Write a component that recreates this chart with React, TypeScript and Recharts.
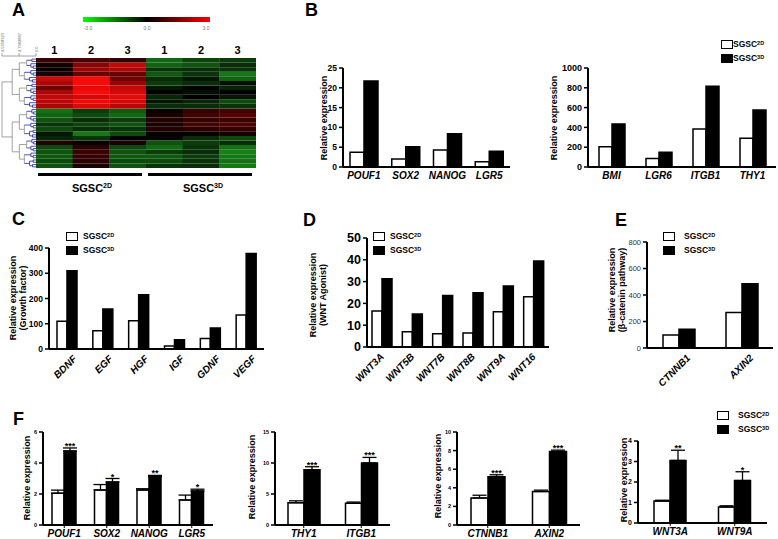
import React from 'react';
import { BarChart, Bar, XAxis, YAxis, ErrorBar, LabelList, Cell } from 'recharts';

const FONT = '"Liberation Sans", Arial, Helvetica, sans-serif';
const NARROW = '"Liberation Sans Narrow", "Liberation Sans", Arial, sans-serif';

// ---- Panel A: heat map, one array per sample column, rows top to bottom (-3..3)
const HM_SAMPLES = ['1', '2', '3', '1', '2', '3'];
const HM_2D_1 = [0.7, 0.2, 0.1, 0.3, 2.4, 2.0, 1.3, 2.0, 2.3, 2.2, 2.0, -1.5, -1.3, -1.1, -0.7, -1.0, -0.3, -0.5, 0.4, -1.0, -1.1, -1.2, -1.0, -1.1];
const HM_2D_2 = [0.9, 1.6, 1.8, 1.2, 2.9, 2.9, 2.7, 2.9, 2.5, 2.8, 2.6, -0.8, -1.0, -0.6, -0.9, -0.6, -1.6, -0.7, 0.1, 0.5, 0.7, 0.6, 0.5, 0.3];
const HM_2D_3 = [0.6, 2.3, 2.0, 1.2, 1.3, 1.8, 2.3, 2.5, 2.7, 2.5, 2.2, -1.2, -1.4, -0.8, -1.1, -0.7, -1.0, 0.0, 0.3, -1.0, -1.1, -1.2, -1.0, -1.1];
const HM_3D_1 = [-1.4, -1.3, -0.7, -1.2, -0.6, -0.8, -0.3, 0.0, -0.5, -0.3, -0.6, 0.1, 0.3, 0.4, 0.3, 0.4, 0.1, -0.1, -1.1, -1.4, -0.8, -1.2, -1.0, -0.7];
const HM_3D_2 = [-0.9, -1.1, -0.6, -0.7, -0.3, -0.6, 0.0, -0.2, 0.0, -0.5, -0.6, 0.6, 0.8, 0.6, 0.8, 0.5, 0.1, -0.6, -0.8, -0.7, -0.6, -0.8, -0.7, -0.6];
const HM_3D_3 = [-0.8, -0.6, -0.7, -1.6, -1.3, -0.2, -0.5, 0.0, -0.3, -1.0, -0.7, 0.8, 1.0, 0.7, 0.9, 0.6, 0.3, -1.0, -0.6, -1.5, -1.7, -1.6, -1.5, -1.6];
const HM_COLUMNS = [HM_2D_1, HM_2D_2, HM_2D_3, HM_3D_1, HM_3D_2, HM_3D_3];
const HM_SCALE = ['-3.0', '0.0', '3.0'];
const DENDRO_SCALE = ['4.5958323', '2.7982887', '0.0'];
const LEGEND_SERIES = ['2D', '3D'];

// ---- Panel B
const B1_GENES = ['POUF1', 'SOX2', 'NANOG', 'LGR5'];
const B1_2D = [3.7, 2.0, 4.3, 1.3];
const B1_3D = [21.7, 5.1, 8.4, 4.0];
const B1_TICKS = [0, 5, 10, 15, 20, 25];

const B2_GENES = ['BMI', 'LGR6', 'ITGB1', 'THY1'];
const B2_2D = [205, 85, 385, 290];
const B2_3D = [435, 150, 815, 575];
const B2_TICKS = [0, 200, 400, 600, 800, 1000];

// ---- Panel C
const C_GENES = ['BDNF', 'EGF', 'HGF', 'IGF', 'GDNF', 'VEGF'];
const C_2D = [110, 72, 112, 12, 42, 135];
const C_3D = [310, 158, 215, 37, 83, 378];
const C_TICKS = [0, 100, 200, 300, 400];

// ---- Panel D
const D_GENES = ['WNT3A', 'WNT5B', 'WNT7B', 'WNT8B', 'WNT9A', 'WNT16'];
const D_2D = [16.5, 7, 6.1, 6.4, 16.2, 23];
const D_3D = [31.3, 15.1, 23.6, 24.9, 28, 39.5];
const D_TICKS = [0, 10, 20, 30, 40, 50];

// ---- Panel E
const E_GENES = ['CTNNB1', 'AXIN2'];
const E_2D = [98, 268];
const E_3D = [142, 485];
const E_TICKS = [0, 200, 400, 600, 800];

// ---- Panel F (qPCR, mean + SEM)
const F1_GENES = ['POUF1', 'SOX2', 'NANOG', 'LGR5'];
const F1_2D = [2.05, 2.26, 2.26, 1.61];
const F1_2D_ERR = [0.2, 0.35, 0.08, 0.32];
const F1_3D = [4.77, 2.77, 3.12, 2.19];
const F1_3D_ERR = [0.2, 0.23, 0.08, 0.12];
const F1_SIG = ['***', '*', '**', '*'];
const F1_TICKS = [0, 2, 4, 6];

const F2_GENES = ['THY1', 'ITGB1'];
const F2_2D = [3.6, 3.5];
const F2_2D_ERR = [0.3, 0.2];
const F2_3D = [8.9, 10.0];
const F2_3D_ERR = [0.5, 0.9];
const F2_SIG = ['***', '***'];
const F2_TICKS = [0, 5, 10, 15];

const F3_GENES = ['CTNNB1', 'AXIN2'];
const F3_2D = [2.9, 3.6];
const F3_2D_ERR = [0.3, 0.15];
const F3_3D = [5.2, 7.9];
const F3_3D_ERR = [0.2, 0.15];
const F3_SIG = ['***', '***'];
const F3_TICKS = [0, 2, 4, 6, 8, 10];

const F4_GENES = ['WNT3A', 'WNT9A'];
const F4_2D = [1.07, 0.78];
const F4_2D_ERR = [0.04, 0.06];
const F4_3D = [3.05, 2.07];
const F4_3D_ERR = [0.5, 0.43];
const F4_SIG = ['**', '*'];
const F4_TICKS = [0, 1, 2, 3, 4];

type Row = { gene: string; d2: number; d3: number; e2?: number[]; e3?: number[]; sig: string };

function rows(genes: string[], d2: number[], d3: number[], e2?: number[], e3?: number[], sig?: string[]): Row[] {
  return genes.map((g, i) => ({
    gene: g,
    d2: d2[i],
    d3: d3[i],
    e2: e2 ? [0, e2[i]] : undefined,
    e3: e3 ? [0, e3[i]] : undefined,
    sig: sig ? sig[i] : '',
  }));
}

function heat(v: number) {
  const t = Math.max(-1, Math.min(1, v / 3));
  if (t >= 0) return `rgb(${Math.round(255 * t)},${Math.round(10 * t)},${Math.round(10 * t)})`;
  return `rgb(${Math.round(40 * -t)},${Math.round(225 * -t)},${Math.round(40 * -t)})`;
}

interface GroupProps {
  data: Row[];
  x0: number; x1: number; yTop: number; yBot: number;
  ticks: number[];
  barSize: number;
  yFont?: number; yWeight?: string; yColor?: string;
  rotate?: boolean; rotDx?: number;
  errors?: boolean;
  xFont?: number;
  starFont?: number;
}

function Group({
  data, x0, x1, yTop, yBot, ticks, barSize, yFont = 9, yWeight = 'bold', yColor = '#000',
  rotate = false, rotDx = 0, errors = false, xFont = 10, starFont = 9,
}: GroupProps) {
  const yw = 40, mt = 8, mr = 3, xh = rotate ? 40 : 22;
  const width = x1 - x0 + yw + mr;
  const height = yBot - yTop + mt + xh;
  const max = ticks[ticks.length - 1];
  const ppu = (yBot - yTop) / max;

  const flatTick = (p: any) => (
    <text x={p.x} y={p.y} dy="0.71em" textAnchor="middle" fontFamily={NARROW}
      fontStyle="italic" fontWeight="bold" fontSize={xFont} fill="#000">{p.payload.value}</text>
  );
  const rotTick = (p: any) => (
    <text transform={`translate(${p.x + rotDx},${p.y + 3}) rotate(-45)`} textAnchor="end" dy="0.35em"
      fontFamily={NARROW} fontStyle="italic" fontWeight="bold" fontSize={xFont} fill="#000">{p.payload.value}</text>
  );
  const stars = (p: any) => {
    const row = data[p.index];
    if (!row || !row.sig) return null;
    const top = p.y - (row.e3 ? row.e3[1] : 0) * ppu;
    return (
      <text x={p.x + p.width / 2} y={top + 1} textAnchor="middle" fontFamily={FONT}
        fontWeight="bold" fontSize={starFont} fill="#000">{row.sig}</text>
    );
  };

  return (
    <div style={{ position: 'absolute', left: x0 - yw, top: yTop - mt }}>
      <BarChart width={width} height={height} data={data} barGap={0} barSize={barSize}
        margin={{ top: mt, right: mr, left: 0, bottom: 0 }}>
        <XAxis dataKey="gene" height={xh} interval={0}
          axisLine={{ stroke: '#000', strokeWidth: 2 }}
          tickLine={errors ? { stroke: '#000', strokeWidth: 1 } : false}
          tickSize={errors ? 3 : 0} tickMargin={errors ? 2 : 5}
          tick={rotate ? rotTick : flatTick} />
        <YAxis width={yw} domain={[0, max]} ticks={ticks} interval={0} allowDataOverflow
          axisLine={{ stroke: '#000', strokeWidth: 2 }}
          tickLine={{ stroke: '#000', strokeWidth: 1.5 }} tickSize={4} tickMargin={2}
          tick={{ fill: yColor, fontSize: yFont, fontWeight: yWeight, fontFamily: FONT }} />
        <Bar dataKey="d2" fill="#fff" stroke="#000" strokeWidth={1.5} isAnimationActive={false}>
          {errors && <ErrorBar dataKey="e2" width={7} stroke="#000" strokeWidth={1.3} direction="y" />}
        </Bar>
        <Bar dataKey="d3" fill="#000" stroke="#000" strokeWidth={1.5} isAnimationActive={false}>
          {errors && <ErrorBar dataKey="e3" width={7} stroke="#000" strokeWidth={1.3} direction="y" />}
          {errors && <LabelList dataKey="sig" content={stars} />}
        </Bar>
      </BarChart>
    </div>
  );
}

function VTitle({ cx, cy, lines, size = 9 }: { cx: number; cy: number; lines: string[]; size?: number }) {
  return (
    <div style={{
      position: 'absolute', left: cx, top: cy, transform: 'translate(-50%,-50%) rotate(-90deg)',
      fontFamily: FONT, fontWeight: 'bold', fontSize: size, lineHeight: `${size + 1}px`,
      whiteSpace: 'nowrap', textAlign: 'center', color: '#000',
    }}>
      {lines.map(l => <div key={l}>{l}</div>)}
    </div>
  );
}

function Letter({ x, y, ch }: { x: number; y: number; ch: string }) {
  return (
    <div style={{
      position: 'absolute', left: x, top: y, fontFamily: FONT, fontWeight: 'bold',
      fontSize: 18, lineHeight: '18px', color: '#000',
    }}>{ch}</div>
  );
}

function Legend({ x, y, tx }: { x: number; y: number; tx: number }) {
  return (
    <>
      {LEGEND_SERIES.map((s, i) => (
        <React.Fragment key={s}>
          <div style={{
            position: 'absolute', left: x, top: y + i * 13.5, width: 12, height: 9,
            boxSizing: 'border-box', border: '1.5px solid #000', background: i ? '#000' : '#fff',
          }} />
          <div style={{
            position: 'absolute', left: tx, top: y + i * 13.5 - 1, fontFamily: FONT, fontWeight: 'bold',
            fontSize: 8.5, lineHeight: '11px', whiteSpace: 'nowrap', color: '#000',
          }}>
            SGSC<span style={{ fontSize: 5.5, verticalAlign: 'top', lineHeight: '8px' }}>{s}</span>
          </div>
        </React.Fragment>
      ))}
    </>
  );
}

function HeatMap() {
  const n = HM_2D_1.length;
  const data = HM_SAMPLES.map((s, i) => {
    const o: Record<string, any> = { name: s, col: i };
    for (let r = 0; r < n; r++) o['r' + r] = 1;
    return o;
  });
  // stacks grow upward, so the last row goes first
  const order = Array.from({ length: n }, (_, k) => n - 1 - k);
  return (
    <div style={{ position: 'absolute', left: 36, top: 42 }}>
      <BarChart width={220} height={126} data={data} margin={{ top: 0, right: 0, left: 0, bottom: 0 }}
        barCategoryGap={0} barGap={0}>
        <XAxis dataKey="name" orientation="top" height={16} interval={0} axisLine={false}
          tickLine={false} tickSize={0} tickMargin={4}
          tick={{ fill: '#000', fontSize: 11, fontWeight: 'bold', fontFamily: FONT }} />
        <YAxis hide domain={[0, n]} />
        {order.map(r => (
          <Bar key={r} dataKey={'r' + r} stackId="hm" isAnimationActive={false}>
            {HM_COLUMNS.map((col, i) => <Cell key={i} fill={heat(col[r])} />)}
          </Bar>
        ))}
      </BarChart>
    </div>
  );
}

function Dendrogram() {
  const leaves = HM_2D_1.length * 2;
  const y0 = 58, y1 = 168, xL = 2, xR = 36;
  const lh = (y1 - y0) / leaves;
  const X = (h: number) => xR - h * (xR - xL);
  const segs: React.ReactElement[] = [];
  let k = 0;
  const node = (a: number, b: number, h: number): { y: number; h: number } => {
    if (b - a === 1) return { y: y0 + (a + 0.5) * lh, h: 0 };
    const m = a === 0 && b === leaves ? 22 : Math.floor((a + b) / 2);
    const ch = b - a > 10 ? h * 0.7 : h * 0.55;
    const A = node(a, m, ch * (m - a > 6 ? 1 : 0.8));
    const B = node(m, b, ch);
    const x = X(h);
    const col = h < 0.22 ? '#1c2a9c' : '#8a8a8a';
    segs.push(<line key={k++} x1={x} x2={x} y1={A.y} y2={B.y} stroke={col} strokeWidth={0.8} />);
    segs.push(<line key={k++} x1={x} x2={X(A.h)} y1={A.y} y2={A.y} stroke={A.h < 0.22 ? '#1c2a9c' : col} strokeWidth={0.8} />);
    segs.push(<line key={k++} x1={x} x2={X(B.h)} y1={B.y} y2={B.y} stroke={B.h < 0.22 ? '#1c2a9c' : col} strokeWidth={0.8} />);
    return { y: (A.y + B.y) / 2, h };
  };
  node(0, leaves, 1);
  return (
    <svg width={40} height={170} style={{ position: 'absolute', left: 0, top: 0 }}>
      <line x1={2} x2={36} y1={56} y2={56} stroke="#8a8a8a" strokeWidth={0.8} />
      {DENDRO_SCALE.map((t, i) => {
        const x = 2 + i * 17;
        return (
          <g key={t}>
            <line x1={x} x2={x} y1={53} y2={56} stroke="#8a8a8a" strokeWidth={0.8} />
            <text transform={`translate(${x + 1.5},52) rotate(-90)`} fontSize={4} fill="#666" fontFamily={FONT}>{t}</text>
          </g>
        );
      })}
      {segs}
    </svg>
  );
}

export default function App() {
  return (
    <div style={{ position: 'absolute', left: 0, top: 0, width: 778, height: 539, background: '#fff', overflow: 'hidden' }}>
      {/* A */}
      <Letter x={12} y={1} ch="A" />
      <div style={{
        position: 'absolute', left: 83, top: 17, width: 127, height: 5,
        background: 'linear-gradient(to right, #00ff00, #000 50%, #ff0000)',
      }} />
      {HM_SCALE.map((t, i) => (
        <div key={t} style={{
          position: 'absolute', left: 88 + i * 59, top: 25, transform: 'translateX(-50%)',
          fontFamily: FONT, fontSize: 5, color: '#777',
        }}>{t}</div>
      ))}
      <Dendrogram />
      <HeatMap />
      <div style={{ position: 'absolute', left: 38, top: 173, width: 104, height: 2.5, background: '#000' }} />
      <div style={{ position: 'absolute', left: 148, top: 173, width: 104, height: 2.5, background: '#000' }} />
      {['2D', '3D'].map((s, i) => (
        <div key={s} style={{
          position: 'absolute', left: i ? 203 : 92, top: 182, transform: 'translateX(-50%)',
          fontFamily: FONT, fontWeight: 'bold', fontSize: 11, lineHeight: '12px', whiteSpace: 'nowrap',
        }}>SGSC<span style={{ fontSize: 7, verticalAlign: 'top', lineHeight: '8px' }}>{s}</span></div>
      ))}

      {/* B */}
      <Letter x={305} y={1} ch="B" />
      <VTitle cx={324} cy={118} lines={['Relative expression']} />
      <Group data={rows(B1_GENES, B1_2D, B1_3D)} x0={343} x1={510} yTop={68} yBot={167}
        ticks={B1_TICKS} barSize={14} yFont={8.5} />
      <VTitle cx={554} cy={118} lines={['Relative expression']} />
      <Group data={rows(B2_GENES, B2_2D, B2_3D)} x0={588} x1={776} yTop={68} yBot={167}
        ticks={B2_TICKS} barSize={13} yFont={9} />
      <Legend x={721} y={40} tx={733} />

      {/* C */}
      <Letter x={12} y={210} ch="C" />
      <VTitle cx={18} cy={298} lines={['Relative expression', '(Growth factor)']} />
      <Group data={rows(C_GENES, C_2D, C_3D)} x0={49} x1={264} yTop={248} yBot={349}
        ticks={C_TICKS} barSize={10} yFont={8.5} rotate rotDx={8} />
      <Legend x={66} y={232} tx={83} />

      {/* D */}
      <Letter x={303} y={211} ch="D" />
      <VTitle cx={318} cy={295} lines={['Relative expression', '(WNT Agonist)']} />
      <Group data={rows(D_GENES, D_2D, D_3D)} x0={367} x1={549} yTop={238} yBot={347}
        ticks={D_TICKS} barSize={10} yFont={12.5} rotate rotDx={0} />
      <Legend x={373} y={232} tx={390} />

      {/* E */}
      <Letter x={615} y={211} ch="E" />
      <VTitle cx={617} cy={290} lines={['Relative expression', '(β-catenin pathway)']} />
      <Group data={rows(E_GENES, E_2D, E_3D)} x0={647} x1={773} yTop={242} yBot={348}
        ticks={E_TICKS} barSize={16} yFont={7.5} yWeight="normal" yColor="#333" rotate rotDx={10} />
      <Legend x={663} y={232} tx={684} />

      {/* F */}
      <Letter x={13} y={410} ch="F" />
      <VTitle cx={27} cy={478} lines={['Relative expression']} />
      <Group data={rows(F1_GENES, F1_2D, F1_3D, F1_2D_ERR, F1_3D_ERR, F1_SIG)} x0={43} x1={213}
        yTop={432} yBot={525} ticks={F1_TICKS} barSize={12} yFont={5.5} errors />
      <VTitle cx={252} cy={477} lines={['Relative expression']} />
      <Group data={rows(F2_GENES, F2_2D, F2_3D, F2_2D_ERR, F2_3D_ERR, F2_SIG)} x0={275} x1={390}
        yTop={432} yBot={525} ticks={F2_TICKS} barSize={16} yFont={5.5} errors />
      <VTitle cx={438} cy={476} lines={['Relative expression']} />
      <Group data={rows(F3_GENES, F3_2D, F3_3D, F3_2D_ERR, F3_3D_ERR, F3_SIG)} x0={457} x1={580}
        yTop={432} yBot={525} ticks={F3_TICKS} barSize={17} yFont={5.5} errors />
      <VTitle cx={624} cy={480} lines={['Relative expression']} />
      <Group data={rows(F4_GENES, F4_2D, F4_3D, F4_2D_ERR, F4_3D_ERR, F4_SIG)} x0={638} x1={767}
        yTop={441} yBot={523} ticks={F4_TICKS} barSize={16} yFont={7} errors />
      <Legend x={717} y={411} tx={738} />
    </div>
  );
}
